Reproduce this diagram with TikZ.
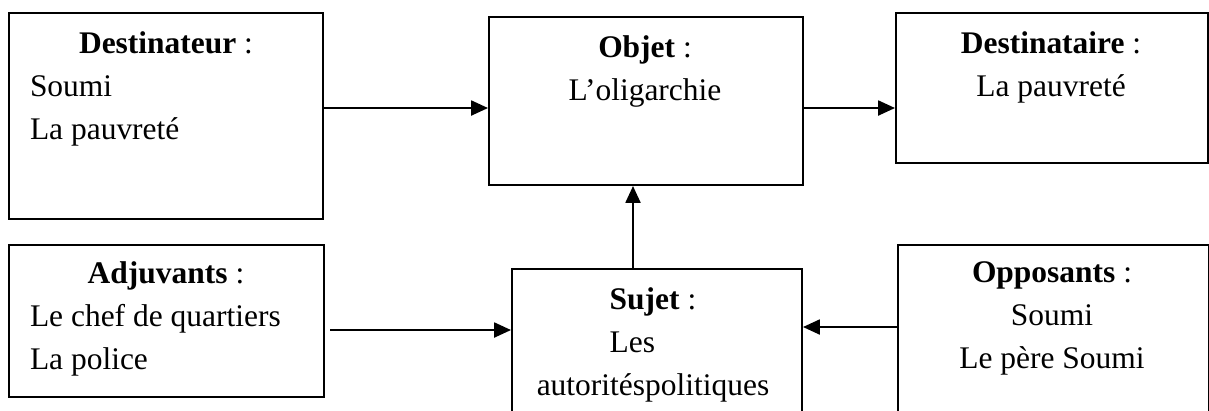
\documentclass[tikz,border=0pt]{standalone}
\usepackage{fontspec}
\setmainfont{Liberation Serif}
\usepackage{tikz}
\usetikzlibrary{arrows.meta}
\tikzstyle{frame} = [draw,anchor=north west,inner sep=0pt]
\tikzstyle{txt} = [inner sep=0pt,font=\fontsize{11.8}{16}\selectfont]
\tikzstyle{txtl} = [txt,anchor=north west,text width=102pt,align=flush left]
\tikzstyle{txtc} = [txt,anchor=north,align=center]

\begin{document}
\begin{tikzpicture}[x=0.375pt,y=-0.375pt,line width=0.75pt,>={Triangle[length=6.3pt,width=5.6pt]}]
\useasboundingbox (0,0) rectangle (1209,410);
\clip (0,0) rectangle (1209,410);

% Draw frames
    \node[frame,minimum width=117.75pt,minimum height=77.25pt] at (8,12) (destinateur) {};
    \node[frame,minimum width=117.75pt,minimum height=63pt] at (488,16) (objet) {};
    \node[frame,minimum width=117pt,minimum height=56.25pt] at (895,12) (destinataire) {};
    \node[frame,minimum width=118.1pt,minimum height=57pt] at (8,244) (adjuvants) {};
    \node[frame,minimum width=108.75pt,minimum height=64.5pt] at (511,268) (sujet) {};
    \node[frame,minimum width=116.6pt,minimum height=73.5pt] at (897,244) (opposants) {};

% Texts
    \node[txtl] at (29,31) (destinateurtxt) {\hfill\textbf{Destinateur} :\hfill\null\\Soumi\\La pauvreté};
    \node[txtc] at (645,35) (objettxt) {\textbf{Objet} :\\L’oligarchie};
    \node[txtc] at (1051,31) (destinatairetxt) {\textbf{Destinataire} :\\La pauvreté};
    \node[txtl] at (29,261) (adjuvantstxt) {\hfill\textbf{Adjuvants} :\hfill\null\\Le chef de quartiers\\La police};
    \node[txtc] at (653,287) (sujettxt) {\textbf{Sujet} :\\\makebox[32.5pt][l]{Les}\\autoritéspolitiques};
    \node[txtc] at (1052,261) (opposantstxt) {\textbf{Opposants} :\\Soumi\\Le père Soumi};

    % join up
    \coordinate (r1) at (0,108);
    \coordinate (r2) at (0,330);
    \coordinate (r3) at (0,327);
    \coordinate (c1) at (633,0);
    \draw[->] (destinateur.east |- r1) -- (objet.west |- r1);
    \draw[->] (objet.east |- r1) -- (destinataire.west |- r1);
    \draw[->] (sujet.north -| c1) -- (objet.south -| c1);
    \draw[->,shorten <=1.9pt] (adjuvants.east |- r2) -- (sujet.west |- r2);
    \draw[->] (opposants.west |- r3) -- (sujet.east |- r3);

\end{tikzpicture}
\end{document}
